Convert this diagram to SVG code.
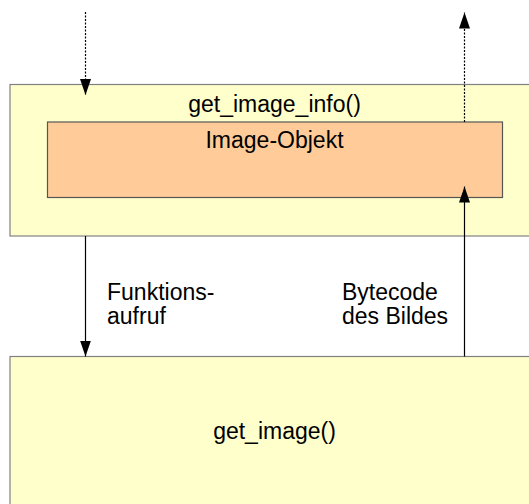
<svg xmlns="http://www.w3.org/2000/svg" width="529" height="504" viewBox="0 0 529 504">
  <defs>
    <marker id="head" viewBox="0 0 11 16" refX="5.5" refY="16" markerWidth="11" markerHeight="16" markerUnits="userSpaceOnUse" orient="auto-start-reverse">
      <path d="M0,0 L11,0 L5.5,16 Z" fill="#000"/>
    </marker>
    <marker id="tip" viewBox="0 0 16 11" refX="16" refY="5.5" markerWidth="16" markerHeight="11" markerUnits="userSpaceOnUse" orient="auto">
      <path d="M0,0 L16,5.5 L0,11 Z" fill="#000"/>
    </marker>
  </defs>
  <style>
    .box { fill: #ffffcc; stroke: #808080; stroke-width: 1.2; }
    .obj { fill: #ffcc99; stroke: #555555; stroke-width: 1.2; }
    .lbl { font-family: "Liberation Sans", Arial, sans-serif; font-size: 23px; fill: #000; }
    .mid { text-anchor: middle; }
    .edge { stroke: #000; stroke-width: 1.2; fill: none; marker-end: url(#tip); }
    .dot { stroke-dasharray: 2 1.5; }
  </style>

  <rect width="529" height="504" fill="#ffffff"/>

  <!-- caller function frame -->
  <g id="get_image_info">
    <rect class="box" x="10" y="84.5" width="540" height="151.5"/>
    <text class="lbl mid" x="274.5" y="112">get_image_info()</text>
  </g>

  <!-- image object held inside the caller -->
  <g id="image_objekt">
    <rect class="obj" x="47.5" y="122" width="455" height="75.5"/>
    <text class="lbl mid" x="274.5" y="148">Image-Objekt</text>
  </g>

  <!-- called function -->
  <g id="get_image">
    <rect class="box" x="10" y="356.5" width="540" height="160"/>
    <text class="lbl mid" x="274.5" y="439">get_image()</text>
  </g>

  <!-- edge labels -->
  <g id="labels">
    <text class="lbl" x="107" y="300">Funktions-</text>
    <text class="lbl" x="107" y="324">aufruf</text>
    <text class="lbl" x="342" y="300">Bytecode</text>
    <text class="lbl" x="342" y="324">des Bildes</text>
  </g>

  <g id="connectors">
    <!-- incoming call from above -->
    <line class="edge dot" x1="85.5" y1="12" x2="85.5" y2="95"/>
    <!-- result returned upward -->
    <line class="edge dot" x1="464.5" y1="122" x2="464.5" y2="12.5"/>
    <!-- function call -->
    <line class="edge" x1="85.5" y1="236" x2="85.5" y2="356.5"/>
    <!-- image bytecode back to the object -->
    <line class="edge" x1="464.5" y1="356.5" x2="464.5" y2="186.5"/>
  </g>
</svg>
